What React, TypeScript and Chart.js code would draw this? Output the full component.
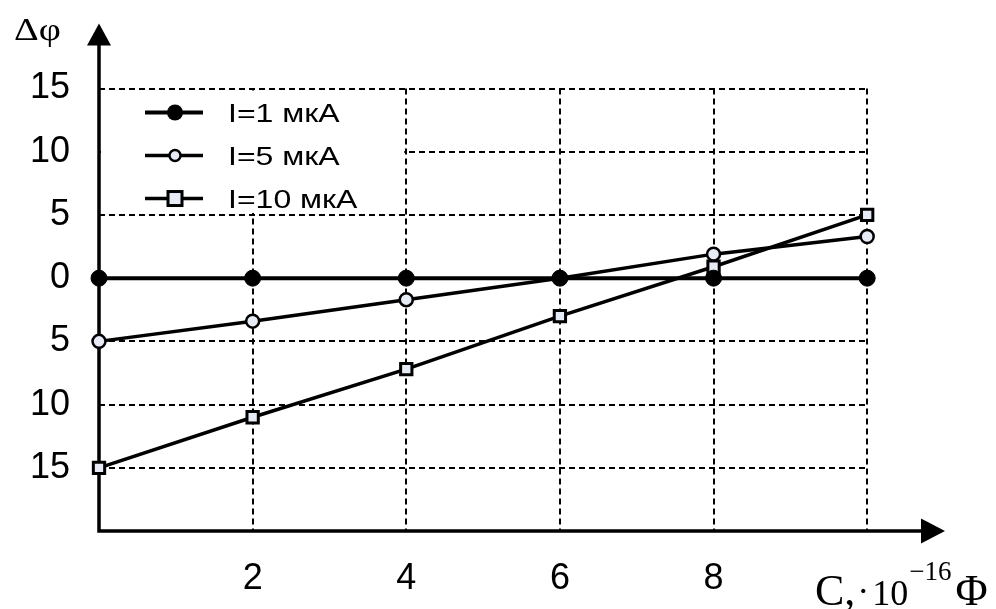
import React, { useEffect, useRef } from "react";
import { Chart, registerables } from "chart.js";

Chart.register(...registerables);

// ---- data ----
const capacitance = [0, 2, 4, 6, 8, 10];
const phaseI1 = [0, 0, 0, 0, 0, 0];
const phaseI5 = [-5, -3.4, -1.7, 0, 1.9, 3.3];
const phaseI10 = [-15, -11, -7.2, -3, 0.9, 5];
const seriesLabels = ["I=1 мкА", "I=5 мкА", "I=10 мкА"];

const xTickValues = [2, 4, 6, 8];
const xTickLabels = ["2", "4", "6", "8"];
const yTickValues = [15, 10, 5, 0, -5, -10, -15];
const yTickLabels = ["15", "10", "5", "0", "5", "10", "15"];
const xGridValues = [2, 4, 6, 8, 10];
const yGridValues = [15, 10, 5, -5, -10, -15];

const X_MIN = 0;
const X_MAX = 11;
const Y_MIN = -20;
const Y_MAX = 18;

const TICK_FONT = "'Liberation Sans', Arial, sans-serif";
const MARKER_FILL = "#e6ebf5";

const toPoints = (ys: number[]) => capacitance.map((x, i) => ({ x, y: ys[i] }));

const decorPlugin = {
  id: "decor",
  beforeDatasetsDraw(chart: any) {
    const { ctx, chartArea } = chart;
    const xs = chart.scales.x;
    const ys = chart.scales.y;
    const x0 = xs.getPixelForValue(0);
    const x10 = xs.getPixelForValue(10);
    const yTop = ys.getPixelForValue(15);
    const yBot = ys.getPixelForValue(Y_MIN);
    ctx.save();
    // dashed grid
    ctx.strokeStyle = "#000";
    ctx.lineWidth = 2;
    ctx.setLineDash([6, 4]);
    yGridValues.forEach((v) => {
      const y = Math.round(ys.getPixelForValue(v));
      ctx.beginPath();
      ctx.moveTo(x0, y);
      ctx.lineTo(x10, y);
      ctx.stroke();
    });
    xGridValues.forEach((v) => {
      const x = Math.round(xs.getPixelForValue(v));
      ctx.beginPath();
      ctx.moveTo(x, yTop);
      ctx.lineTo(x, yBot);
      ctx.stroke();
    });
    ctx.setLineDash([]);

    // legend box
    const lx0 = x0 + 2;
    const lx1 = xs.getPixelForValue(4) - 2;
    const ly0 = ys.getPixelForValue(15) + 2;
    const ly1 = ys.getPixelForValue(5) - 2;
    ctx.fillStyle = "#fff";
    ctx.fillRect(lx0, ly0, lx1 - lx0, ly1 - ly0);

    const rows = [ly0 + 22, ly0 + 65, ly0 + 108];
    const styles = ["filled", "open", "square"];
    rows.forEach((ry, i) => {
      ctx.strokeStyle = "#000";
      ctx.lineWidth = i === 0 ? 4 : 3.5;
      ctx.beginPath();
      ctx.moveTo(145, ry);
      ctx.lineTo(203, ry);
      ctx.stroke();
      const mx = 175;
      if (styles[i] === "filled") {
        ctx.fillStyle = "#000";
        ctx.beginPath();
        ctx.arc(mx, ry, 8, 0, Math.PI * 2);
        ctx.fill();
      } else if (styles[i] === "open") {
        ctx.fillStyle = MARKER_FILL;
        ctx.lineWidth = 2.5;
        ctx.beginPath();
        ctx.arc(mx, ry, 5.5, 0, Math.PI * 2);
        ctx.fill();
        ctx.stroke();
      } else {
        ctx.fillStyle = MARKER_FILL;
        ctx.lineWidth = 3;
        ctx.fillRect(mx - 7, ry - 7, 14, 14);
        ctx.strokeRect(mx - 7, ry - 7, 14, 14);
      }
      ctx.save();
      ctx.translate(228, ry + 9);
      ctx.scale(1.28, 1);
      ctx.fillStyle = "#000";
      ctx.font = "25px 'Liberation Sans', Arial, sans-serif";
      ctx.textBaseline = "alphabetic";
      ctx.textAlign = "left";
      ctx.fillText(seriesLabels[i], 0, 0);
      ctx.restore();
    });

    // axes with arrows
    ctx.strokeStyle = "#000";
    ctx.fillStyle = "#000";
    ctx.lineWidth = 3.5;
    const yTip = chartArea.top - 27;
    const xTip = chartArea.right + 1;
    ctx.beginPath();
    ctx.moveTo(x0, yBot + 1.75);
    ctx.lineTo(x0, yTip + 10);
    ctx.moveTo(x0 - 1.75, yBot);
    ctx.lineTo(xTip - 10, yBot);
    ctx.stroke();
    ctx.beginPath();
    ctx.moveTo(x0, yTip);
    ctx.lineTo(x0 - 12, yTip + 22);
    ctx.lineTo(x0 + 12, yTip + 22);
    ctx.closePath();
    ctx.fill();
    ctx.beginPath();
    ctx.moveTo(xTip, yBot);
    ctx.lineTo(xTip - 24, yBot - 12.5);
    ctx.lineTo(xTip - 24, yBot + 12.5);
    ctx.closePath();
    ctx.fill();
    ctx.restore();
  },
  afterDraw(chart: any) {
    const { ctx } = chart;
    ctx.save();
    ctx.fillStyle = "#000";
    ctx.textBaseline = "alphabetic";
    ctx.textAlign = "left";
    // y-axis label Δφ
    ctx.save();
    ctx.translate(14, 40);
    ctx.scale(1.2, 1);
    ctx.font = "32px 'Liberation Serif', 'Times New Roman', serif";
    ctx.fillText("Δφ", 0, 0);
    ctx.restore();

    // x-axis label C,·10^-16 Φ
    const base = 605;
    let x = 815;
    ctx.font = "44px 'Liberation Serif', 'Times New Roman', serif";
    ctx.fillText("C,", x, base);
    x += ctx.measureText("C,").width + 2;
    ctx.font = "36px 'Liberation Serif', 'Times New Roman', serif";
    ctx.fillText("·", x, base - 2);
    x += ctx.measureText("·").width + 3;
    ctx.fillText("10", x, base);
    x += ctx.measureText("10").width + 1;
    ctx.font = "27px 'Liberation Serif', 'Times New Roman', serif";
    ctx.fillText("−16", x, base - 25);
    x += ctx.measureText("−16").width + 4;
    ctx.font = "44px 'Liberation Serif', 'Times New Roman', serif";
    ctx.fillText("Φ", x, base);
    ctx.restore();
  },
};

export default function App() {
  const ref = useRef<HTMLCanvasElement | null>(null);

  useEffect(() => {
    if (!ref.current) return;
    const chart = new Chart(ref.current, {
      type: "line",
      data: {
        datasets: [
          {
            label: seriesLabels[0],
            data: toPoints(phaseI1),
            borderColor: "#000",
            borderWidth: 4,
            pointStyle: "circle",
            pointRadius: 8,
            pointBackgroundColor: "#000",
            pointBorderColor: "#000",
            pointBorderWidth: 1,
            clip: false,
            order: 0,
          },
          {
            label: seriesLabels[1],
            data: toPoints(phaseI5),
            borderColor: "#000",
            borderWidth: 3.5,
            pointStyle: "circle",
            pointRadius: 6.5,
            pointBackgroundColor: MARKER_FILL,
            pointBorderColor: "#000",
            pointBorderWidth: 2.5,
            clip: false,
            order: 2,
          },
          {
            label: seriesLabels[2],
            data: toPoints(phaseI10),
            borderColor: "#000",
            borderWidth: 3.5,
            pointStyle: "rect",
            pointRadius: 8,
            pointBackgroundColor: MARKER_FILL,
            pointBorderColor: "#000",
            pointBorderWidth: 3,
            clip: false,
            order: 1,
          },
        ],
      },
      options: {
        animation: false,
        responsive: false,
        devicePixelRatio: 1,
        layout: { padding: { top: 44.6, right: 52, left: 0, bottom: 0 } },
        plugins: { legend: { display: false }, tooltip: { enabled: false } },
        elements: { line: { tension: 0 } },
        scales: {
          x: {
            type: "linear",
            min: X_MIN,
            max: X_MAX,
            grid: { display: false, drawTicks: false },
            border: { display: false },
            afterFit: (s: any) => {
              s.height = 78;
            },
            afterBuildTicks: (s: any) => {
              s.ticks = xTickValues.map((v) => ({ value: v }));
            },
            ticks: {
              autoSkip: false,
              maxRotation: 0,
              padding: 26,
              color: "#000",
              font: { family: TICK_FONT, size: 36 },
              callback: (_v: any, i: number) => xTickLabels[i],
            },
          },
          y: {
            type: "linear",
            min: Y_MIN,
            max: Y_MAX,
            grid: { display: false, drawTicks: false },
            border: { display: false },
            afterFit: (s: any) => {
              s.width = 99;
            },
            afterBuildTicks: (s: any) => {
              s.ticks = yTickValues.map((v) => ({ value: v }));
            },
            ticks: {
              autoSkip: false,
              padding: 29,
              color: "#000",
              font: { family: TICK_FONT, size: 36 },
              callback: (_v: any, i: number) => yTickLabels[i],
            },
          },
        },
      },
      plugins: [decorPlugin],
    });
    return () => chart.destroy();
  }, []);

  return (
    <div style={{ position: "absolute", left: 0, top: 0, width: 996, height: 609, background: "#fff" }}>
      <canvas ref={ref} width={996} height={609} style={{ display: "block" }} />
    </div>
  );
}
